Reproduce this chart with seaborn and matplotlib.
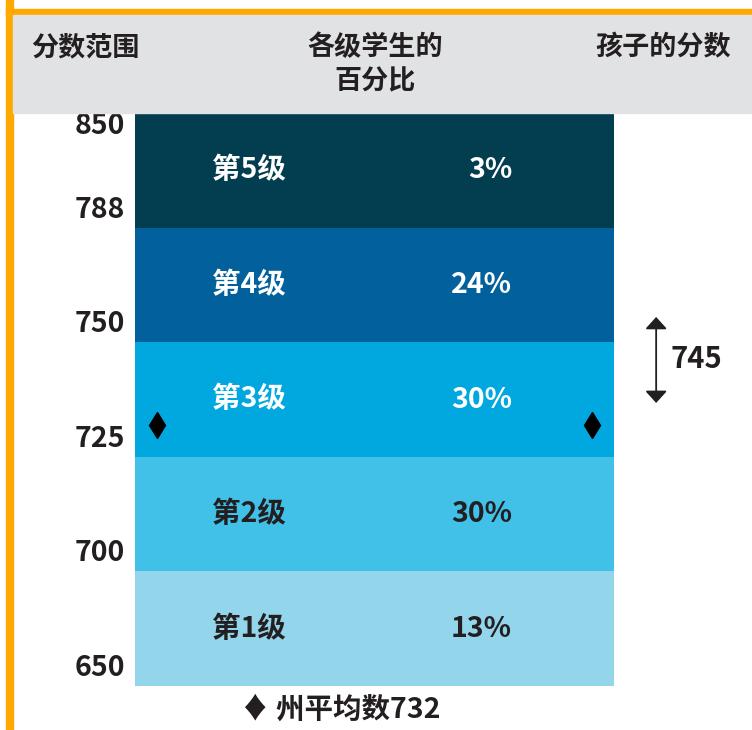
import numpy as np
import matplotlib
matplotlib.use('Agg')
import matplotlib.pyplot as plt
from matplotlib.patches import Rectangle
import seaborn as sns

# data
levels = ['第1级', '第2级', '第3级', '第4级', '第5级']
percents = [13, 30, 30, 24, 3]
bounds = [650, 700, 725, 750, 788, 850]
state_avg = 732
child_score = 745

headers = ['分数范围', '各级学生的\n百分比', '孩子的分数']
footer = '♦ 州平均数732'

colors = ['#93d5eb', '#41c0e8', '#00a8df', '#02619d', '#023e50']
text_colors = ['#231f20', '#231f20', 'white', 'white', 'white']
ink = '#231f20'

sns.set_theme(style='white')
plt.rcParams['font.family'] = ['Noto Sans CJK SC', 'DejaVu Sans']
plt.rcParams['font.weight'] = 'bold'
FS = 20.5

fig = plt.figure(figsize=(7.52, 7.30), dpi=100)

# orange frame + grey header band
fig.patches.append(Rectangle((6/752, 0), 7/752, 1, transform=fig.transFigure, color='#ffa800', zorder=0))
fig.patches.append(Rectangle((6/752, 1-15/730), 1, 6/730, transform=fig.transFigure, color='#ffa800', zorder=0))
fig.patches.append(Rectangle((13/752, 1-113/730), 1, 98/730, transform=fig.transFigure, color='#e1e2e4', zorder=0))

ax = fig.add_axes([135/752, 1-686/730, 617/752, 573/730])
ax.patch.set_alpha(0)

# bands: equal height per level, drawn tallest first so they stack
tops = np.arange(1, len(levels) + 1)
for top, c in sorted(zip(tops, colors), reverse=True):
    sns.barplot(x=[0], y=[top], color=c, width=1, saturation=1, linewidth=0, ax=ax)

ax.set_xlim(-0.5, -0.5 + 617/479)
ax.set_ylim(0, len(levels))
ax.set_xticks([])
ax.set_yticks([])
ax.set_xlabel('')
ax.set_ylabel('')
sns.despine(ax=ax, left=True, bottom=True)

for i, (lv, p) in enumerate(zip(levels, percents)):
    ax.text(-0.262, i + 0.5, lv, ha='center', va='center', fontsize=FS,
            color=text_colors[i], fontweight='heavy')
    ax.text(0.287, i + 0.5, f'{p}%', ha='right', va='center', fontsize=FS,
            color=text_colors[i], fontweight='heavy')

# score scale labels at band boundaries
for j, b in enumerate(bounds):
    dy = -9 if j == len(bounds) - 1 else 13
    ax.annotate(str(b), xy=(0, j), xycoords=ax.get_yaxis_transform(),
                xytext=(-7, dy), textcoords='offset points',
                ha='right', va='center', fontsize=FS, color=ink, fontweight='heavy')

# map scores into band coordinates
avg_y = np.interp(state_avg, bounds, np.arange(len(bounds)))
child_y = np.interp(child_score, bounds, np.arange(len(bounds)))

ax.plot([-0.454, 0.454], [avg_y, avg_y], linestyle='none', marker='d',
        markersize=13, color='black')

ax.annotate('', xy=(0.588, child_y + 0.045 + 0.375), xytext=(0.588, child_y + 0.045 - 0.375),
            arrowprops=dict(arrowstyle='<|-|>,head_length=0.33,head_width=0.3', color=ink, lw=1.3,
                            mutation_scale=22, shrinkA=0, shrinkB=0))
ax.annotate(str(child_score), xy=(0.588, child_y + 0.05), xytext=(10, 0),
            textcoords='offset points', ha='left', va='center',
            fontsize=FS + 0.5, color=ink, fontweight='heavy')

fig.text(85/752, 1-47/730, headers[0], ha='center', va='center', fontsize=19.5, color=ink, fontweight='heavy')
fig.text(375/752, 1-64.5/730, headers[1], ha='center', va='center', fontsize=19.5, color=ink,
         fontweight='heavy', linespacing=1.3)
fig.text(663/752, 1-47/730, headers[2], ha='center', va='center', fontsize=19.5, color=ink, fontweight='heavy')
fig.text(341/752, 1-710/730, footer, ha='center', va='center', fontsize=FS, color=ink, fontweight='heavy')

fig.savefig('out.png', dpi=100)
